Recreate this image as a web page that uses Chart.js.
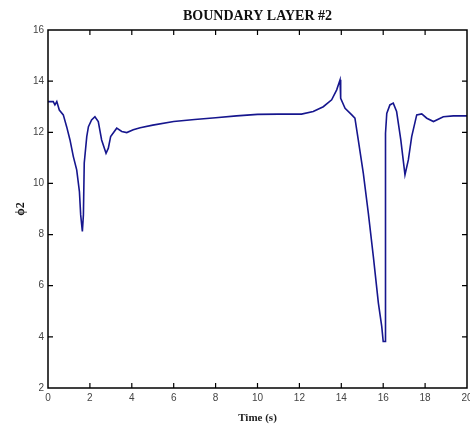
<!DOCTYPE html>
<html>
<head>
<meta charset="utf-8">
<script src="https://cdn.jsdelivr.net/npm/chart.js@4/dist/chart.umd.min.js"></script>
<style>
  html, body { margin: 0; padding: 0; background: #fff; }
  #wrap { width: 470px; height: 425px; position: relative; }
</style>
</head>
<body>
<div id="wrap"><canvas id="boundaryChart"></canvas></div>
<script>
// --- DATA ---
const timeValues = [0, 0.25, 0.33, 0.42, 0.54, 0.73, 0.89, 1.05, 1.21, 1.37, 1.5, 1.56, 1.64, 1.69, 1.73, 1.85, 1.93, 2.08, 2.24, 2.4,
    2.56, 2.77, 2.88, 2.99, 3.28, 3.52, 3.76, 4.07, 4.4, 5, 6, 7, 8, 9, 10, 11, 12.1, 12.66, 13.14, 13.54,
    13.78, 13.94, 13.97, 14.18, 14.5, 14.65, 14.81, 15.05, 15.29, 15.53, 15.77, 15.93, 16, 16.09, 16.11, 16.17, 16.32, 16.48, 16.64, 16.84,
    17.04, 17.2, 17.36, 17.6, 17.84, 18.08, 18.4, 18.87, 19.35, 20];
const phiValues = [13.2, 13.2, 13.07, 13.2, 12.87, 12.68, 12.22, 11.7, 11.05, 10.53, 9.68, 8.77, 8.12, 8.77, 10.8, 11.83, 12.22, 12.48, 12.61, 12.42,
    11.7, 11.18, 11.38, 11.83, 12.16, 12.03, 11.99, 12.1, 12.18, 12.28, 12.42, 12.5, 12.57, 12.64, 12.7, 12.71, 12.71, 12.81, 13.0, 13.27,
    13.66, 14.05, 13.33, 12.94, 12.68, 12.55, 11.7, 10.4, 8.84, 7.14, 5.32, 4.41, 3.82, 3.82, 11.96, 12.74, 13.07, 13.14, 12.81, 11.7,
    10.34, 10.92, 11.83, 12.68, 12.72, 12.55, 12.42, 12.61, 12.64, 12.64];
const xTicks = [0, 2, 4, 6, 8, 10, 12, 14, 16, 18, 20];
const yTicks = [2, 4, 6, 8, 10, 12, 14, 16];

// --- FRAME + INWARD TICKS ---
const framePlugin = {
    id: 'frame',
    afterDatasetsDraw(chart) {
        const { ctx, chartArea: a, scales: { x, y } } = chart;
        ctx.save();
        ctx.strokeStyle = '#000';
        ctx.lineWidth = 1.5;
        ctx.strokeRect(a.left, a.top, a.right - a.left, a.bottom - a.top);
        ctx.lineWidth = 1.2;
        ctx.beginPath();
        xTicks.slice(1, -1).forEach(v => {
            const px = x.getPixelForValue(v);
            ctx.moveTo(px, a.bottom); ctx.lineTo(px, a.bottom - 5);
            ctx.moveTo(px, a.top); ctx.lineTo(px, a.top + 5);
        });
        yTicks.slice(1, -1).forEach(v => {
            const py = y.getPixelForValue(v);
            ctx.moveTo(a.left, py); ctx.lineTo(a.left + 5, py);
            ctx.moveTo(a.right, py); ctx.lineTo(a.right - 5, py);
        });
        ctx.stroke();
        ctx.restore();
    }
};

const ctx = document.getElementById('boundaryChart').getContext('2d');
new Chart(ctx, {
    type: 'line',
    data: {
        datasets: [{
            data: timeValues.map((t, i) => ({ x: t, y: phiValues[i] })),
            borderColor: '#16168e',
            borderWidth: 1.6,
            pointRadius: 0,
            tension: 0,
            fill: false
        }]
    },
    options: {
        responsive: true,
        maintainAspectRatio: false,
        animation: false,
        layout: { padding: { left: 0, right: 3, top: 0, bottom: 0 } },
        plugins: {
            legend: { display: false },
            tooltip: { enabled: false },
            title: {
                display: true,
                text: 'BOUNDARY LAYER #2',
                fullSize: false,
                color: '#111',
                font: { family: 'Liberation Serif', size: 14, weight: 'bold' },
                padding: { top: 7.6, bottom: 5.6 }
            }
        },
        scales: {
            x: {
                type: 'linear',
                min: 0, max: 20,
                afterFit(s) { s.height = 37; s.paddingRight = 0; s.paddingLeft = 0; },
                afterBuildTicks(s) { s.ticks = xTicks.map(v => ({ value: v })); },
                grid: { display: false, drawTicks: false },
                border: { display: false },
                ticks: { color: '#444', padding: 4, maxRotation: 0, font: { family: 'Liberation Sans', size: 10 } },
                title: {
                    display: true, text: 'Time (s)', color: '#222',
                    font: { family: 'Liberation Serif', size: 11, weight: 'bold' },
                    padding: { top: 0, bottom: 0 }
                }
            },
            y: {
                min: 2, max: 16,
                afterFit(s) { s.width = 48; s.paddingTop = 0; s.paddingBottom = 0; },
                afterBuildTicks(s) { s.ticks = yTicks.map(v => ({ value: v })); },
                grid: { display: false, drawTicks: false },
                border: { display: false },
                ticks: { color: '#444', padding: 4, font: { family: 'Liberation Sans', size: 10 } },
                title: {
                    display: true, text: 'ϕ2', color: '#111',
                    font: { family: 'Liberation Serif', size: 12, weight: 'bold' },
                    padding: { top: 14, bottom: 0 }
                }
            }
        }
    },
    plugins: [framePlugin]
});
</script>
</body>
</html>
